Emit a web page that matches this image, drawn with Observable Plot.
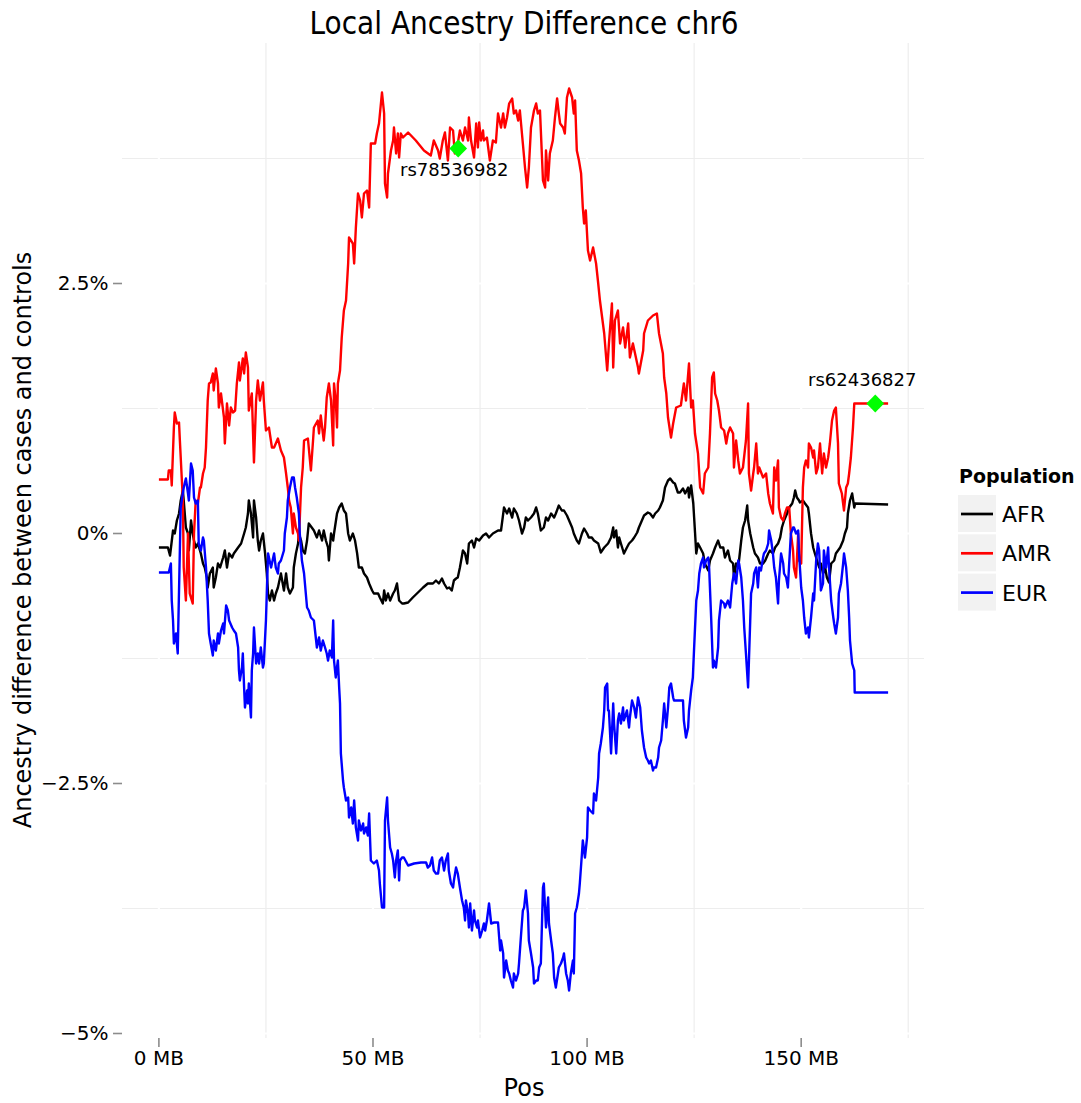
<!DOCTYPE html>
<html>
<head>
<meta charset="utf-8">
<script src="https://cdn.jsdelivr.net/npm/d3@7"></script>
<script src="https://cdn.jsdelivr.net/npm/@observablehq/plot@0.6"></script>
<style>
  body { margin: 0; background: #ffffff; }
  #chart svg { display: block; }
</style>
</head>
<body>
<div id="chart"></div>
<script>
// Populations and their line colours
const populations = ["AFR", "AMR", "EUR"];
const populationColors = ["#000000", "#ff0000", "#0000ff"];

// Case/control ancestry difference along chr6: [position in MB, difference in %]
const AFR = [[0.0,-0.14],[2.1,-0.14],[2.6,-0.22],[3.3,0.03],[3.7,0.00],[4.2,0.13],[4.7,0.20],[5.1,0.33],[5.6,0.43],[5.8,0.33],[6.3,0.06],[6.8,0.00],[7.0,-0.17],[7.5,0.13],[7.9,0.00],[8.2,-0.07],[8.6,-0.14],[9.1,-0.10],[9.8,-0.20],[10.3,-0.30],[10.7,-0.34],[11.2,-0.44],[11.4,-0.54],[11.9,-0.40],[12.6,-0.34],[12.8,-0.54],[13.3,-0.44],[13.8,-0.30],[14.3,-0.34],[15.0,-0.24],[15.4,-0.17],[15.9,-0.34],[16.4,-0.20],[17.1,-0.24],[17.5,-0.20],[18.5,-0.14],[19.2,-0.10],[19.9,0.00],[20.3,0.06],[20.8,0.20],[21.0,0.33],[21.5,0.20],[22.0,-0.04],[22.2,0.33],[22.7,0.16],[23.1,-0.07],[23.4,-0.17],[23.8,-0.07],[24.3,0.00],[24.8,-0.20],[25.2,-0.40],[25.5,-0.60],[25.9,-0.67],[26.4,-0.57],[26.9,-0.67],[27.3,-0.60],[27.8,-0.54],[28.5,-0.40],[29.2,-0.57],[29.7,-0.40],[30.1,-0.54],[30.6,-0.60],[31.3,-0.54],[31.5,-0.34],[32.0,-0.20],[32.5,-0.10],[32.7,0.00],[33.2,-0.07],[33.6,-0.17],[34.1,-0.20],[34.6,-0.07],[35.0,0.10],[35.7,0.06],[36.2,0.03],[36.9,-0.04],[37.4,0.03],[38.1,-0.07],[38.5,0.03],[39.0,-0.07],[39.5,-0.14],[39.7,-0.27],[40.2,0.00],[40.7,-0.07],[40.9,0.00],[41.6,0.20],[42.1,0.26],[42.7,0.30],[43.2,0.23],[43.7,0.20],[44.2,0.00],[44.6,-0.07],[45.3,0.00],[45.8,-0.07],[46.3,-0.20],[46.7,-0.34],[47.4,-0.34],[47.9,-0.40],[48.6,-0.44],[49.1,-0.50],[49.8,-0.57],[50.2,-0.60],[51.2,-0.60],[51.6,-0.64],[52.3,-0.70],[52.6,-0.57],[53.0,-0.67],[53.5,-0.60],[54.0,-0.67],[54.7,-0.60],[55.1,-0.57],[55.6,-0.50],[56.1,-0.67],[56.8,-0.70],[57.2,-0.70],[58.2,-0.69],[59.3,-0.64],[60.5,-0.59],[61.7,-0.54],[62.8,-0.50],[64.0,-0.50],[64.7,-0.47],[65.4,-0.50],[66.1,-0.45],[66.6,-0.50],[67.3,-0.55],[67.8,-0.54],[68.4,-0.57],[68.9,-0.47],[69.4,-0.45],[69.8,-0.44],[70.3,-0.34],[71.0,-0.17],[71.5,-0.20],[72.0,-0.30],[72.4,-0.10],[73.1,-0.07],[73.6,-0.14],[74.1,-0.05],[74.8,-0.07],[75.7,-0.02],[76.4,0.00],[77.1,-0.04],[78.0,0.00],[79.2,0.03],[79.9,0.03],[80.6,0.26],[81.3,0.20],[81.8,0.25],[82.5,0.16],[82.9,0.25],[83.6,0.20],[84.1,0.13],[84.8,0.00],[85.3,0.06],[85.7,0.16],[86.2,0.13],[86.9,0.16],[87.6,0.20],[88.1,0.26],[88.5,0.20],[89.2,0.03],[89.9,0.06],[90.4,0.16],[90.9,0.13],[91.6,0.20],[92.3,0.16],[92.7,0.20],[93.4,0.28],[94.1,0.23],[94.6,0.23],[95.3,0.18],[95.8,0.13],[96.5,0.06],[96.9,0.00],[97.6,-0.07],[98.1,-0.10],[98.8,0.00],[99.3,0.05],[100.0,0.00],[100.4,-0.04],[101.1,-0.04],[101.6,-0.07],[102.6,-0.10],[103.2,-0.19],[104.0,-0.14],[104.9,-0.10],[105.6,-0.04],[106.1,0.06],[106.3,-0.04],[106.8,0.03],[107.2,-0.14],[107.5,-0.04],[107.9,-0.10],[108.4,-0.17],[108.6,-0.20],[109.3,-0.14],[109.8,-0.10],[110.5,-0.07],[111.0,-0.04],[111.7,0.01],[112.1,0.06],[112.8,0.13],[113.3,0.18],[114.2,0.21],[114.7,0.20],[115.4,0.16],[115.9,0.20],[116.6,0.23],[117.0,0.26],[117.7,0.33],[118.2,0.46],[118.9,0.53],[119.4,0.55],[120.1,0.51],[120.5,0.50],[121.2,0.41],[121.7,0.41],[122.4,0.45],[122.9,0.40],[123.6,0.46],[123.8,0.36],[124.3,0.48],[124.8,0.30],[125.0,0.16],[125.5,-0.20],[125.9,-0.10],[126.4,-0.14],[127.1,-0.20],[127.5,-0.30],[128.3,-0.37],[128.7,-0.27],[129.4,-0.20],[129.9,-0.14],[130.6,-0.07],[131.1,-0.14],[131.8,-0.14],[132.2,-0.24],[132.9,-0.17],[133.4,-0.27],[134.1,-0.30],[134.3,-0.44],[134.8,-0.30],[135.3,-0.34],[136.0,-0.07],[136.4,0.06],[136.9,0.13],[137.4,0.28],[137.6,0.13],[138.1,0.00],[138.8,-0.14],[139.2,-0.20],[139.9,-0.24],[140.4,-0.30],[141.1,-0.30],[141.6,-0.27],[142.3,-0.20],[142.7,-0.17],[143.4,-0.20],[143.9,-0.14],[144.6,-0.10],[145.1,-0.04],[145.5,0.06],[146.0,0.13],[146.7,0.20],[147.2,0.26],[147.9,0.30],[148.3,0.36],[148.6,0.43],[149.0,0.36],[149.5,0.33],[149.7,0.31],[150.4,0.33],[150.9,0.30],[151.6,0.26],[151.8,0.20],[152.3,0.00],[152.8,-0.14],[153.2,-0.20],[153.7,-0.27],[154.2,-0.34],[154.6,-0.30],[155.1,-0.40],[155.6,-0.34],[156.0,-0.44],[156.5,-0.49],[157.0,-0.30],[157.7,-0.27],[158.1,-0.20],[158.6,-0.17],[159.1,-0.14],[159.8,-0.07],[160.2,0.00],[160.7,0.06],[160.9,0.20],[161.4,0.33],[161.9,0.40],[162.4,0.26],[162.6,0.30],[170.3,0.29]];

const AMR = [[0.0,0.54],[2.1,0.54],[2.3,0.63],[2.8,0.63],[3.0,0.48],[3.5,1.06],[3.7,1.21],[4.2,1.10],[4.7,1.11],[4.9,0.93],[5.6,0.33],[5.8,-0.34],[6.3,-0.67],[6.8,0.00],[7.2,-0.60],[7.9,-0.70],[8.2,0.00],[8.6,0.33],[9.1,0.30],[9.6,0.46],[9.8,0.46],[10.3,0.60],[10.7,0.66],[11.0,0.86],[11.4,1.33],[11.7,1.50],[12.1,1.51],[12.6,1.60],[12.8,1.43],[13.3,1.65],[13.8,1.50],[14.0,1.26],[14.5,1.40],[15.2,1.16],[15.4,0.90],[15.9,1.30],[16.4,1.08],[16.8,1.26],[17.3,1.21],[17.8,1.23],[18.2,1.50],[18.7,1.71],[18.9,1.53],[19.6,1.75],[19.9,1.60],[20.3,1.81],[20.8,1.66],[21.0,1.23],[21.7,1.40],[22.2,0.71],[22.7,1.33],[23.1,1.53],[23.6,1.33],[24.3,1.51],[24.5,1.33],[25.0,1.03],[25.7,1.06],[26.4,0.86],[26.9,0.86],[27.8,0.95],[28.5,0.83],[29.2,0.76],[29.7,0.60],[30.1,0.46],[30.4,0.33],[30.8,0.26],[31.3,0.00],[31.5,0.20],[32.0,0.06],[32.5,0.00],[32.7,-0.07],[33.2,0.46],[33.6,0.66],[33.9,0.93],[34.8,0.95],[35.5,0.63],[36.0,0.93],[36.2,1.06],[37.1,1.13],[37.4,1.00],[37.8,1.18],[38.5,0.93],[38.8,1.06],[39.2,1.36],[39.7,1.50],[40.2,1.33],[40.7,0.88],[40.9,1.50],[41.3,1.33],[41.6,1.06],[41.8,1.50],[42.3,1.63],[42.7,1.96],[43.2,2.23],[43.7,2.33],[44.2,2.70],[44.4,2.96],[45.3,2.90],[45.6,2.70],[46.0,3.06],[46.5,3.40],[47.0,3.33],[47.4,3.16],[47.9,3.40],[48.6,3.43],[49.1,3.26],[49.5,3.90],[50.5,3.90],[50.9,4.00],[51.4,4.10],[52.1,4.41],[52.6,4.20],[52.8,3.50],[53.3,3.36],[53.5,3.60],[54.2,3.83],[54.7,3.93],[54.9,4.06],[55.4,3.80],[55.8,4.00],[56.1,3.76],[56.5,4.00],[57.0,3.96],[58.2,4.01],[60.0,3.93],[61.9,3.83],[63.5,3.78],[64.2,3.93],[65.2,3.83],[65.6,3.75],[66.3,3.93],[66.8,4.01],[67.5,3.73],[68.0,4.06],[68.7,4.03],[69.1,3.80],[69.8,3.90],[70.3,4.03],[71.0,3.93],[71.5,4.06],[72.2,3.93],[72.4,4.16],[72.9,3.93],[73.6,3.76],[74.1,4.10],[74.5,3.86],[74.8,4.11],[75.2,3.93],[75.7,4.03],[75.9,3.93],[76.6,3.96],[77.3,3.73],[78.0,3.93],[78.7,3.91],[79.2,4.20],[79.9,4.06],[80.4,4.20],[80.8,4.06],[81.3,4.16],[81.8,4.30],[82.5,4.35],[82.9,4.20],[83.4,4.23],[83.9,4.13],[84.3,4.23],[85.0,3.90],[85.5,3.66],[86.0,3.46],[86.4,3.66],[86.9,4.06],[87.6,4.23],[88.1,4.30],[88.5,4.20],[89.0,4.23],[89.7,3.53],[90.2,3.46],[90.4,3.83],[90.9,3.53],[91.3,3.80],[92.0,3.93],[92.5,4.16],[93.0,4.35],[93.4,4.20],[93.7,4.10],[94.4,4.06],[94.8,4.00],[95.3,4.36],[95.8,4.45],[96.5,4.36],[96.9,4.20],[97.2,4.33],[97.6,3.83],[98.1,3.73],[98.6,3.60],[99.0,3.26],[99.3,3.10],[99.7,3.23],[100.2,2.83],[100.7,2.73],[101.4,2.86],[102.1,2.70],[102.6,2.50],[103.0,2.33],[104.0,2.00],[104.7,1.63],[105.1,1.90],[105.8,2.30],[106.1,1.66],[106.5,2.13],[107.2,2.23],[107.7,1.90],[108.4,2.06],[108.9,1.86],[109.6,2.10],[110.0,1.76],[110.7,1.90],[111.2,1.80],[111.9,1.66],[112.1,1.60],[113.1,1.83],[113.3,2.00],[114.2,2.13],[115.4,2.18],[116.3,2.20],[116.8,2.00],[117.7,1.80],[118.0,1.56],[118.5,1.40],[118.9,1.16],[119.6,0.96],[120.1,1.10],[120.8,1.26],[121.9,1.28],[122.6,1.50],[123.1,1.33],[123.8,1.70],[124.3,1.26],[124.7,1.33],[125.2,1.00],[125.9,0.80],[126.4,0.46],[127.1,0.40],[127.5,0.60],[128.3,0.66],[128.7,1.00],[129.2,1.56],[129.6,1.61],[129.9,1.40],[130.4,1.33],[130.8,1.23],[131.3,1.06],[132.0,1.03],[132.5,0.90],[132.9,1.00],[133.4,1.06],[134.1,1.00],[134.3,0.66],[134.8,0.93],[135.3,0.73],[135.7,0.60],[136.4,0.66],[137.1,0.93],[137.6,1.30],[137.8,0.60],[138.3,0.43],[138.8,0.60],[139.0,0.66],[139.5,0.90],[139.9,0.60],[140.2,0.66],[141.1,0.56],[141.8,0.60],[142.3,0.40],[142.7,0.30],[143.4,0.20],[143.7,0.66],[144.1,0.53],[144.6,0.73],[144.8,0.26],[145.3,0.16],[145.8,0.13],[146.2,0.20],[146.7,0.26],[147.2,0.26],[147.6,0.00],[148.1,-0.17],[148.3,-0.34],[148.8,-0.44],[149.3,0.00],[149.5,-0.27],[150.0,-0.30],[150.4,0.46],[150.7,0.66],[151.1,0.73],[151.6,0.66],[151.8,0.90],[152.3,0.86],[152.8,0.76],[153.0,0.83],[153.5,0.60],[153.9,0.66],[154.4,0.90],[154.9,0.60],[155.3,0.80],[155.8,0.66],[156.3,0.76],[156.7,0.90],[157.2,1.13],[157.7,1.23],[158.1,1.26],[158.6,0.90],[158.8,0.50],[159.5,0.40],[160.0,0.23],[160.5,0.46],[160.9,0.50],[161.2,0.60],[161.6,0.76],[162.1,1.06],[162.4,1.30],[170.3,1.30]];

const EUR = [[0.0,-0.39],[2.3,-0.39],[2.8,-0.30],[3.0,-0.67],[3.3,-0.87],[3.5,-1.10],[4.0,-1.00],[4.4,-1.20],[5.1,0.26],[5.8,0.46],[6.3,0.55],[6.8,0.40],[7.0,0.33],[7.5,0.70],[7.9,0.63],[8.2,0.36],[8.6,0.30],[9.1,0.33],[9.3,-0.10],[9.8,-0.17],[10.3,-0.04],[10.5,-0.07],[11.0,-0.34],[11.4,-0.67],[11.7,-1.00],[12.1,-1.10],[12.6,-1.22],[12.8,-1.07],[13.3,-1.17],[13.8,-1.00],[14.0,-1.10],[14.5,-0.97],[15.0,-0.90],[15.2,-1.00],[15.7,-0.72],[16.1,-0.77],[16.4,-0.87],[17.1,-0.94],[17.5,-0.97],[18.0,-1.00],[18.5,-1.14],[18.7,-1.37],[18.9,-1.47],[19.4,-1.34],[19.6,-1.20],[19.9,-1.54],[20.1,-1.74],[20.6,-1.57],[20.8,-1.70],[21.0,-1.50],[21.5,-1.84],[21.7,-1.37],[22.0,-1.20],[22.2,-0.94],[22.7,-1.30],[23.1,-1.20],[23.4,-1.30],[23.8,-1.14],[24.3,-1.34],[24.5,-1.30],[25.0,-0.87],[25.2,-0.60],[25.5,-0.20],[26.2,-0.34],[26.9,-0.20],[27.3,-0.34],[27.8,-0.40],[28.0,-0.30],[28.5,-0.27],[29.2,-0.17],[29.4,0.00],[29.9,0.16],[30.1,0.33],[30.6,0.46],[31.1,0.56],[31.5,0.56],[31.8,0.46],[32.2,0.36],[32.7,0.20],[32.9,0.00],[33.4,-0.27],[33.9,-0.40],[34.6,-0.74],[35.0,-0.77],[35.5,-0.84],[36.2,-0.87],[36.9,-1.14],[37.4,-1.04],[37.8,-1.17],[38.3,-1.07],[38.8,-1.14],[39.2,-1.20],[39.5,-1.27],[39.9,-1.17],[40.4,-1.24],[40.7,-0.87],[40.9,-1.27],[41.3,-1.44],[41.8,-1.27],[42.1,-1.54],[42.3,-1.70],[42.5,-2.20],[43.0,-2.47],[43.2,-2.54],[43.7,-2.67],[44.2,-2.64],[44.4,-2.84],[44.9,-2.74],[45.3,-2.90],[45.6,-2.67],[46.0,-2.94],[46.5,-3.07],[46.7,-2.87],[47.2,-2.97],[47.7,-2.90],[47.9,-3.00],[48.4,-2.94],[48.8,-3.02],[49.1,-2.80],[49.5,-3.27],[50.2,-3.30],[50.9,-3.27],[51.4,-3.37],[51.6,-3.50],[52.1,-3.74],[52.6,-3.74],[52.8,-2.87],[53.3,-2.64],[53.5,-2.87],[54.0,-3.14],[54.4,-3.20],[54.7,-3.27],[55.1,-3.44],[55.4,-3.27],[55.8,-3.17],[56.1,-3.47],[56.3,-3.27],[56.8,-3.24],[57.2,-3.24],[58.2,-3.32],[59.6,-3.30],[61.2,-3.29],[62.4,-3.29],[62.8,-3.34],[63.3,-3.32],[63.8,-3.24],[64.2,-3.37],[64.7,-3.40],[65.2,-3.40],[65.6,-3.27],[66.1,-3.24],[66.6,-3.37],[67.0,-3.27],[67.5,-3.20],[67.7,-3.37],[68.2,-3.50],[68.7,-3.54],[68.9,-3.47],[69.4,-3.34],[69.8,-3.40],[70.3,-3.54],[70.8,-3.67],[71.2,-3.74],[71.5,-3.87],[71.7,-3.67],[72.2,-3.80],[72.4,-3.94],[72.7,-3.70],[73.1,-3.97],[73.6,-3.77],[73.8,-3.87],[74.3,-3.94],[74.5,-3.87],[75.0,-4.04],[75.5,-3.97],[75.9,-3.90],[76.2,-3.97],[76.6,-3.87],[77.1,-3.70],[77.6,-3.90],[78.3,-3.89],[79.2,-3.89],[79.7,-4.17],[79.9,-4.07],[80.4,-4.20],[80.6,-4.44],[81.1,-4.27],[81.5,-4.37],[81.8,-4.40],[82.2,-4.47],[82.7,-4.54],[82.9,-4.40],[83.4,-4.47],[83.9,-4.40],[84.1,-4.30],[84.6,-4.00],[85.0,-3.77],[85.3,-3.74],[85.7,-3.57],[86.2,-3.80],[86.4,-4.07],[86.9,-4.20],[87.4,-4.34],[87.6,-4.50],[88.1,-4.47],[88.5,-4.47],[88.8,-4.34],[89.2,-4.30],[89.7,-3.54],[89.9,-3.50],[90.4,-3.94],[90.9,-3.64],[91.1,-3.90],[91.6,-4.07],[92.0,-4.20],[92.3,-4.44],[92.7,-4.54],[93.2,-4.40],[93.4,-4.34],[93.9,-4.30],[94.4,-4.24],[94.6,-4.20],[95.1,-4.40],[95.5,-4.47],[95.8,-4.57],[96.2,-4.40],[96.7,-4.27],[96.9,-4.40],[97.2,-3.80],[97.6,-3.74],[98.1,-3.60],[98.3,-3.50],[98.8,-3.20],[99.0,-3.07],[99.5,-3.24],[100.0,-3.04],[100.2,-2.74],[100.7,-2.77],[101.4,-2.80],[101.6,-2.60],[102.1,-2.67],[102.6,-2.44],[102.8,-2.20],[103.2,-2.10],[103.7,-1.94],[104.0,-1.77],[104.2,-1.54],[104.7,-1.50],[104.9,-1.77],[105.1,-1.77],[105.6,-2.20],[106.1,-1.70],[106.3,-1.90],[106.8,-2.20],[107.2,-1.87],[107.5,-1.80],[107.9,-1.90],[108.4,-1.74],[108.6,-1.87],[109.3,-1.77],[109.8,-1.94],[110.0,-1.84],[110.5,-1.67],[111.0,-1.74],[111.4,-1.84],[111.9,-1.64],[112.4,-1.74],[112.8,-1.97],[113.3,-2.14],[113.8,-2.24],[114.2,-2.27],[114.5,-2.30],[114.9,-2.27],[115.4,-2.37],[115.6,-2.34],[116.1,-2.34],[116.6,-2.24],[116.8,-2.14],[117.3,-2.07],[117.7,-1.87],[118.0,-1.70],[118.5,-1.94],[118.9,-1.74],[119.2,-1.54],[119.6,-1.50],[120.1,-1.64],[120.3,-1.67],[121.2,-1.67],[122.4,-1.67],[122.6,-1.87],[123.1,-2.04],[123.6,-1.94],[123.8,-1.77],[124.3,-1.57],[124.7,-1.44],[125.0,-1.14],[125.5,-0.67],[125.9,-0.57],[126.2,-0.40],[126.6,-0.30],[127.1,-0.24],[127.3,-0.34],[127.8,-0.27],[128.3,-0.24],[128.5,-0.34],[129.0,-0.87],[129.4,-1.34],[129.6,-1.27],[130.1,-1.34],[130.6,-1.14],[130.8,-0.87],[131.3,-0.67],[132.0,-0.70],[132.2,-0.74],[132.9,-0.67],[133.4,-0.74],[133.9,-0.50],[134.3,-0.40],[134.8,-0.50],[135.3,-0.27],[135.5,-0.30],[136.0,-0.44],[136.4,-0.67],[136.7,-0.94],[137.1,-1.20],[137.6,-1.54],[137.8,-1.27],[138.1,-0.87],[138.3,-0.60],[138.8,-0.50],[139.0,-0.40],[139.5,-0.34],[139.9,-0.54],[140.2,-0.34],[140.6,-0.37],[141.1,-0.24],[141.3,-0.20],[141.8,-0.17],[142.3,-0.10],[142.5,0.03],[143.0,-0.07],[143.4,-0.20],[143.7,-0.34],[144.1,-0.44],[144.6,-0.70],[144.8,-0.47],[145.3,-0.20],[145.8,-0.30],[146.0,-0.40],[146.5,-0.44],[146.9,-0.54],[147.2,-0.30],[147.6,0.00],[148.1,0.06],[148.3,0.06],[148.8,0.00],[149.3,0.03],[149.5,-0.20],[150.0,-0.54],[150.4,-0.67],[150.7,-0.84],[151.1,-1.00],[151.6,-0.94],[151.8,-1.04],[152.3,-0.84],[152.8,-0.60],[153.0,-0.67],[153.5,-0.27],[153.9,-0.10],[154.2,-0.17],[154.6,-0.57],[155.1,-0.50],[155.3,-0.17],[155.8,-0.34],[156.3,-0.14],[156.5,-0.34],[157.0,-0.67],[157.5,-0.84],[157.7,-0.90],[158.1,-1.00],[158.6,-0.84],[158.8,-0.60],[159.3,-0.50],[159.8,-0.30],[160.0,-0.20],[160.5,-0.34],[160.9,-0.57],[161.2,-0.84],[161.4,-1.07],[161.9,-1.30],[162.4,-1.37],[162.5,-1.59],[170.3,-1.59]];

// Highlighted SNPs on the AMR trace
const snpNames = ["rs78536982", "rs62436827"];
const snpPos = [69.9, 167.3];
const snpDiff = [3.85, 1.30];

// Axis ticks
const xTicks = [0, 50, 100, 150];
const yTicks = [-5, -2.5, 0, 2.5];
const xMinorTicks = [25, 75, 125, 175];
const yMinorTicks = [-3.75, -1.25, 1.25, 3.75];

const traces = [AFR, AMR, EUR];
const rows = populations.flatMap((pop, i) =>
  traces[i].map(([pos, diff]) => ({pos, diff, pop}))
);
const snps = snpNames.map((name, i) => ({name, pos: snpPos[i], diff: snpDiff[i]}));

const fmtPct = d => (d < 0 ? "\u2212" : "") + Math.abs(d) + "%";

const chart = Plot.plot({
  width: 1081,
  height: 1103,
  marginLeft: 122,
  marginRight: 157,
  marginTop: 43,
  marginBottom: 65,
  style: {fontFamily: "DejaVu Sans", fontSize: "20px", color: "#000", background: "#fff"},
  x: {domain: [-8.5, 178.8]},
  y: {domain: [-5.05, 4.9]},
  color: {domain: populations, range: populationColors},
  marks: [
    Plot.gridX(xMinorTicks, {stroke: "#ededed", strokeOpacity: 1, strokeWidth: 1.2}),
    Plot.gridY(yMinorTicks, {stroke: "#ededed", strokeOpacity: 1, strokeWidth: 1.2}),
    Plot.gridX(xTicks, {stroke: "#ffffff", strokeOpacity: 1, strokeWidth: 2.2}),
    Plot.gridY(yTicks, {stroke: "#ffffff", strokeOpacity: 1, strokeWidth: 2.2}),
    Plot.axisX({ticks: xTicks, tickFormat: d => `${d} MB`, tickSize: 9, tickPadding: 3,
      stroke: "#8c8c8c", strokeWidth: 1.6, fill: "#000", fontSize: 20, label: null}),
    Plot.axisY({ticks: yTicks, tickFormat: fmtPct, tickSize: 9, tickPadding: 5,
      stroke: "#8c8c8c", strokeWidth: 1.6, fill: "#000", fontSize: 20, label: null}),
    Plot.line(rows, {x: "pos", y: "diff", z: "pop", stroke: "pop", strokeWidth: 2.4,
      strokeLinejoin: "round", strokeLinecap: "butt"}),
    Plot.dot(snps, {x: "pos", y: "diff", symbol: "diamond2", r: 8, fill: "#00ff00", stroke: null}),
    Plot.text(snps.slice(0, 1), {x: "pos", y: "diff", text: "name", dx: -4, dy: 22,
      fontSize: 18, fill: "#000"}),
    Plot.text(snps.slice(1), {x: "pos", y: "diff", text: "name", dx: -13, dy: -23,
      fontSize: 18, fill: "#000"})
  ]
});

document.getElementById("chart").append(chart);

// Titles and legend drawn into the same SVG
const svg = d3.select(chart);
const font = "DejaVu Sans";

svg.append("text")
  .attr("transform", "translate(524,34) scale(0.875,1)")
  .attr("text-anchor", "middle")
  .attr("font-family", font)
  .attr("font-size", 32)
  .attr("fill", "#000")
  .text("Local Ancestry Difference chr6");

svg.append("text")
  .attr("x", 524).attr("y", 1096)
  .attr("text-anchor", "middle")
  .attr("font-family", font)
  .attr("font-size", 24)
  .attr("fill", "#000")
  .text("Pos");

svg.append("text")
  .attr("transform", "translate(31,540) rotate(-90)")
  .attr("text-anchor", "middle")
  .attr("font-family", font)
  .attr("font-size", 24)
  .attr("fill", "#000")
  .text("Ancestry difference between cases and controls");

const legend = svg.append("g")
  .attr("font-family", font)
  .attr("text-anchor", "start");
legend.append("text")
  .attr("x", 959).attr("y", 483)
  .attr("text-anchor", "start")
  .attr("font-size", 19)
  .attr("font-weight", "bold")
  .attr("fill", "#000")
  .text("Population");

populations.forEach((pop, i) => {
  const top = 495 + i * 39.3;
  legend.append("rect")
    .attr("x", 958).attr("y", top)
    .attr("width", 38).attr("height", 37)
    .attr("fill", "#f2f2f2");
  legend.append("line")
    .attr("x1", 961).attr("x2", 993)
    .attr("y1", top + 19).attr("y2", top + 19)
    .attr("stroke", populationColors[i])
    .attr("stroke-width", 2.7);
  legend.append("text")
    .attr("x", 1002).attr("y", top + 27)
    .attr("text-anchor", "start")
    .attr("font-size", 22)
    .attr("fill", "#000")
    .text(pop);
});
</script>
</body>
</html>
